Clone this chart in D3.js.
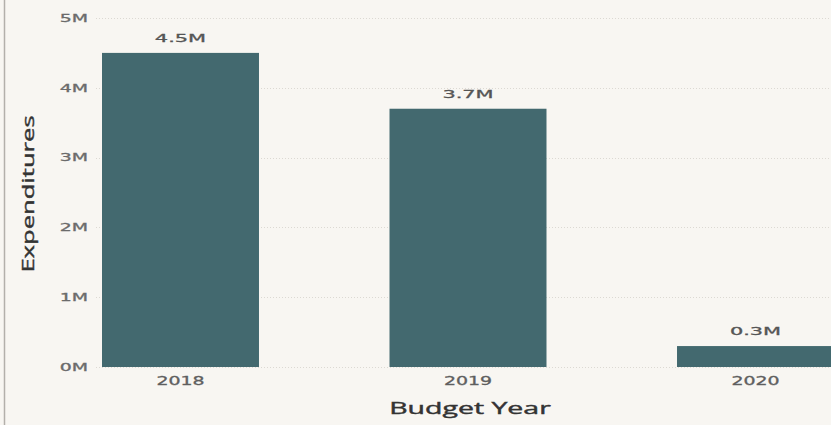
<!DOCTYPE html>
<html><head><meta charset="utf-8">
<script src="https://cdn.jsdelivr.net/npm/d3@7"></script>
<style>
html,body{margin:0;padding:0;background:#f8f6f2;}
svg{display:block;}
</style></head>
<body>
<svg id="chart" width="831" height="425"></svg>
<script>
const years = ["2018", "2019", "2020"];
const expenditures = [4.5, 3.7, 0.3]; // millions
const valueLabels = ["4.5M", "3.7M", "0.3M"];
const yTicks = [0, 1, 2, 3, 4, 5];
const yTickLabels = ["0M", "1M", "2M", "3M", "4M", "5M"];

const svg = d3.select("#chart");
const W = 831, H = 425;

svg.append("rect").attr("width", W).attr("height", H).attr("fill", "#f8f6f2");
svg.append("line").attr("x1", 4.5).attr("x2", 4.5).attr("y1", 0).attr("y2", H)
  .attr("stroke", "#b3b0ab").attr("stroke-width", 1.5);

const y = d3.scaleLinear().domain([0, 5]).range([367, 18]);
const x = d3.scaleBand().domain(years).range([102, 834]).paddingInner(0.454).paddingOuter(0);

// gridlines
svg.append("g").selectAll("line").data(yTicks).join("line")
  .attr("x1", 96).attr("x2", W)
  .attr("y1", d => Math.round(y(d)) + 0.5).attr("y2", d => Math.round(y(d)) + 0.5)
  .attr("stroke", "#dcd9d3").attr("stroke-width", 1).attr("stroke-dasharray", "1,2");

// y axis tick labels (glyphs widened horizontally like the reference)
const yAxis = d3.axisLeft(y).tickValues(yTicks).tickFormat((d, i) => yTickLabels[i]).tickSize(0).tickPadding(0);
const gy = svg.append("g").attr("transform", "translate(88,0)").call(yAxis);
gy.select(".domain").remove();
gy.selectAll("text").attr("x", 0).attr("transform", "scale(1.8,1)")
  .attr("fill", "#6b6b6b").attr("stroke", "#6b6b6b").attr("stroke-width", 0.3)
  .style("font-family", "DejaVu Sans, Verdana, sans-serif").style("font-size", "10.5px");

// bars
svg.append("g").selectAll("rect").data(years).join("rect")
  .attr("x", d => x(d))
  .attr("width", x.bandwidth())
  .attr("y", (d, i) => y(expenditures[i]))
  .attr("height", (d, i) => y(0) - y(expenditures[i]))
  .attr("fill", "#43696f");

// value labels
svg.append("g").selectAll("text").data(years).join("text")
  .attr("transform", (d, i) => `translate(${x(d) + x.bandwidth() / 2},${y(expenditures[i]) - 11}) scale(1.9,1)`)
  .attr("text-anchor", "middle")
  .attr("fill", "#555").attr("stroke", "#555").attr("stroke-width", 0.3)
  .style("font-family", "DejaVu Sans, Verdana, sans-serif").style("font-size", "11px")
  .text((d, i) => valueLabels[i]);

// x axis labels
const xAxis = d3.axisBottom(x).tickSize(0).tickPadding(0);
const gx = svg.append("g").attr("transform", "translate(0,377)").call(xAxis);
gx.select(".domain").remove();
gx.selectAll("text").attr("transform", "scale(1.65,1)")
  .attr("fill", "#5f5f5f").attr("stroke", "#5f5f5f").attr("stroke-width", 0.3)
  .style("font-family", "DejaVu Sans, Verdana, sans-serif").style("font-size", "11.5px");

// axis titles
svg.append("text").attr("transform", "translate(470,414) scale(1.78,1)").attr("text-anchor", "middle")
  .attr("fill", "#333").attr("stroke", "#333").attr("stroke-width", 0.4)
  .style("font-family", "Open Sans, Noto Sans, sans-serif").style("font-size", "16px")
  .text("Budget Year");
svg.append("text").attr("transform", "translate(34,194) rotate(-90) scale(1.6,1)").attr("text-anchor", "middle")
  .attr("fill", "#333").attr("stroke", "#333").attr("stroke-width", 0.4)
  .style("font-family", "Open Sans, Noto Sans, sans-serif").style("font-size", "16px")
  .text("Expenditures");
</script>
</body></html>
